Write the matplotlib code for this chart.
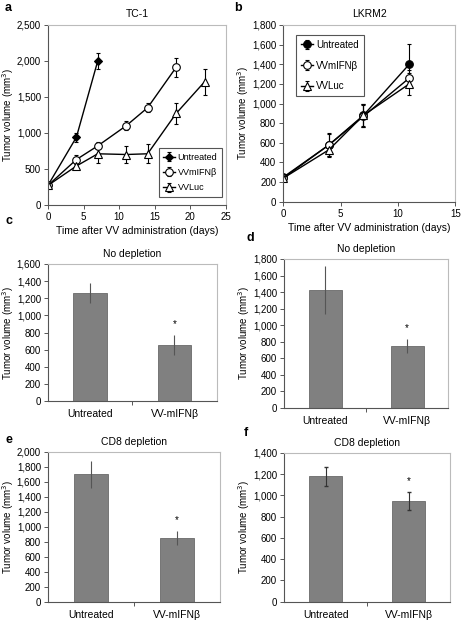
import matplotlib.pyplot as plt
from matplotlib.ticker import FuncFormatter, FixedLocator
import numpy as np

plt.rcParams['font.family'] = ['Liberation Sans', 'DejaVu Sans']
plt.rcParams['font.size'] = 7

# panel a: TC-1
a_days_unt = [0, 4, 7]
a_unt = [270, 940, 2000]
a_unt_err = [40, 60, 110]
a_days_ifn = [0, 4, 7, 11, 14, 18]
a_ifn = [270, 630, 820, 1100, 1350, 1910]
a_ifn_err = [40, 60, 50, 60, 60, 130]
a_days_luc = [0, 4, 7, 11, 14, 18, 22]
a_luc = [270, 540, 710, 700, 710, 1270, 1710]
a_luc_err = [40, 40, 130, 120, 130, 140, 180]

# panel b: LKRM2
b_days = [0, 4, 7, 11]
b_unt = [250, 580, 880, 1400]
b_unt_err = [30, 120, 120, 210]
b_ifn = [240, 580, 870, 1260]
b_ifn_err = [30, 110, 110, 80]
b_luc = [240, 530, 880, 1200]
b_luc_err = [30, 60, 110, 110]

# bar panels
groups = ['Untreated', 'VV-mIFNβ']
c_vals = [1265, 655]
c_err = [115, 120]
d_vals = [1425, 750]
d_err = [290, 85]
e_vals = [1700, 850]
e_err = [180, 90]
f_vals = [1180, 950]
f_err = [90, 85]

fmt = FuncFormatter(lambda v, p: '{:,.0f}'.format(v))
ylab = 'Tumor volume (mm$^3$)'
xlab = 'Time after VV administration (days)'

fig = plt.figure(figsize=(4.65, 6.21), dpi=100)


def style_axes(ax):
    for s in ['left', 'bottom']:
        ax.spines[s].set_color('#555555')
        ax.spines[s].set_linewidth(0.8)
    for s in ['top', 'right']:
        ax.spines[s].set_color('#bbbbbb')
        ax.spines[s].set_linewidth(0.8)
    ax.tick_params(length=3, width=0.7, color='#555555', pad=2, labelsize=7)
    ax.yaxis.set_major_formatter(fmt)
    ax.set_ylabel(ylab, fontsize=7, labelpad=0.5)


def line_panel(ax, series, xmax, ymax, ystep, title, legbox, legsize, legspace):
    for x, y, e, mk, fc, lab in series:
        ax.errorbar(x, y, yerr=e, color='black', lw=1, marker=mk, ms=5.5 if mk != 'D' else 4.5,
                    mfc=fc, mec='black', mew=0.8, capsize=1.5, elinewidth=0.8, label=lab)
    ax.set_xlim(0, xmax)
    ax.set_ylim(0, ymax)
    ax.set_xticks(np.arange(0, xmax + 1, 5))
    ax.set_yticks(np.arange(0, ymax + 1, ystep))
    style_axes(ax)
    ax.set_title(title, fontsize=7.5, pad=6)
    ax.set_xlabel(xlab, fontsize=7.5, labelpad=3)
    leg = ax.legend(loc='center', bbox_to_anchor=legbox, fontsize=legsize, frameon=True, fancybox=False,
                    handlelength=1.3, handletextpad=0.3, borderpad=0.5, labelspacing=legspace,
                    framealpha=1, borderaxespad=0)
    leg.get_frame().set_edgecolor('#555555')
    leg.get_frame().set_linewidth(0.8)


def bar_panel(ax, vals, err, ymax, ystep, title, caps):
    x = np.arange(len(groups))
    ax.bar(x, vals, width=0.4, color='#808080', edgecolor='#6a6a6a', lw=0.6)
    ax.errorbar(x, vals, yerr=err, fmt='none', ecolor='#333333' if caps else '#555555',
                elinewidth=0.8, capsize=1.5 if caps else 0)
    ax.text(x[1], vals[1] + err[1] + ymax * 0.04, '*', ha='center', va='bottom', fontsize=7)
    ax.set_xlim(-0.5, 1.5)
    ax.set_ylim(0, ymax)
    ax.set_yticks(np.arange(0, ymax + 1, ystep))
    ax.xaxis.set_major_locator(FixedLocator([0.5]))
    ax.set_xticklabels([''])
    ax.set_xticks(x, minor=True)
    ax.set_xticklabels(groups, minor=True, fontsize=7.5)
    ax.tick_params(axis='x', which='minor', length=0, pad=6)
    style_axes(ax)
    ax.set_title(title, fontsize=7.5, pad=5)


ax_a = fig.add_axes([0.103, 0.670, 0.383, 0.290])
line_panel(ax_a, [(a_days_unt, a_unt, a_unt_err, 'D', 'black', 'Untreated'),
                  (a_days_ifn, a_ifn, a_ifn_err, 'o', 'white', 'VVmIFNβ'),
                  (a_days_luc, a_luc, a_luc_err, '^', 'white', 'VVLuc')],
           25, 2500, 500, 'TC-1', (0.80, 0.18), 6.5, 0.7)

ax_b = fig.add_axes([0.609, 0.675, 0.370, 0.285])
line_panel(ax_b, [(b_days, b_unt, b_unt_err, 'o', 'black', 'Untreated'),
                  (b_days, b_ifn, b_ifn_err, 'o', 'white', 'VVmIFNβ'),
                  (b_days, b_luc, b_luc_err, '^', 'white', 'VVLuc')],
           15, 1800, 200, 'LKRM2', (0.27, 0.77), 7, 1.1)

ax_c = fig.add_axes([0.103, 0.354, 0.363, 0.221])
bar_panel(ax_c, c_vals, c_err, 1600, 200, 'No depletion', False)
ax_d = fig.add_axes([0.611, 0.343, 0.353, 0.240])
bar_panel(ax_d, d_vals, d_err, 1800, 200, 'No depletion', False)
ax_e = fig.add_axes([0.103, 0.031, 0.370, 0.2415])
bar_panel(ax_e, e_vals, e_err, 2000, 200, 'CD8 depletion', False)
ax_f = fig.add_axes([0.611, 0.031, 0.357, 0.240])
bar_panel(ax_f, f_vals, f_err, 1400, 200, 'CD8 depletion', True)

for lab, xx, yy in [('a', 5, 8), ('b', 234, 8), ('c', 5, 221), ('d', 246, 238),
                    ('e', 5, 440), ('f', 244, 433)]:
    fig.text(xx / 465, 1 - yy / 621, lab, fontsize=9, fontweight='bold', ha='left', va='center')

plt.savefig('out.png', dpi=100)
